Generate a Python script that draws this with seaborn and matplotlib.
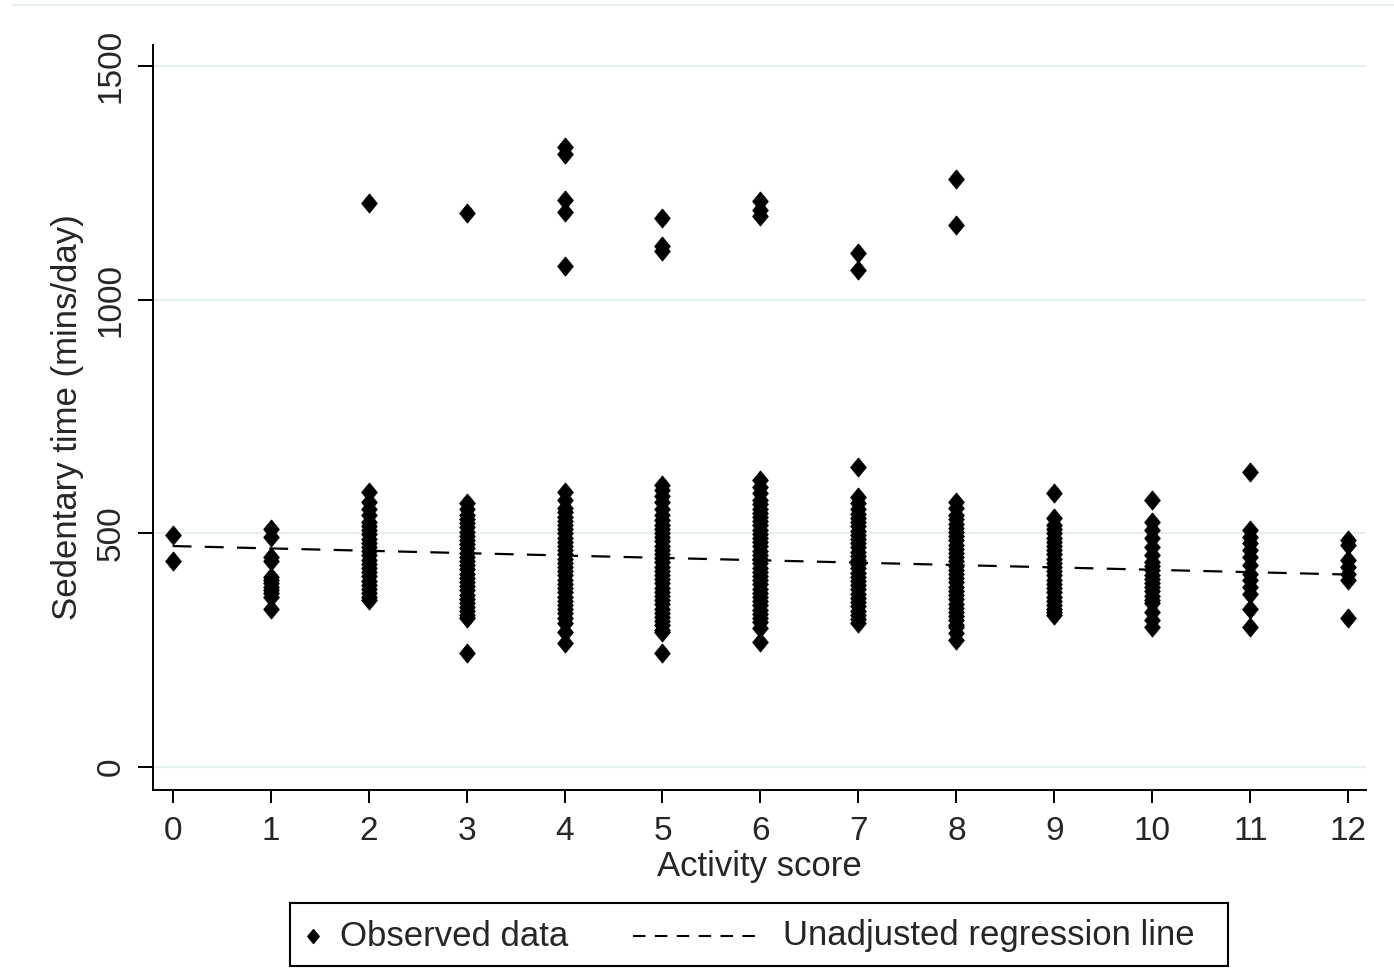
import numpy as np
import pandas as pd
import seaborn as sns
import matplotlib
matplotlib.use("Agg")
import matplotlib.pyplot as plt
from matplotlib.lines import Line2D
from matplotlib.patches import Rectangle

# ---- data ----
activity_scores = [0, 1, 2, 3, 4, 5, 6, 7, 8, 9, 10, 11, 12]

sed_0 = [497, 440]
sed_1 = [509, 493, 450, 441, 407, 400, 393, 386, 379, 372, 364, 339]
sed_2 = [1207, 589, 568, 553, 539, 525, 516, 507, 498, 489, 480, 471, 462, 453, 444,
         435, 426, 417, 408, 399, 390, 381, 372, 364, 357]
sed_3 = [1185, 566, 552, 540, 531, 522, 513, 504, 495, 486, 477, 468, 459, 450, 441,
         432, 423, 414, 405, 396, 387, 378, 369, 360, 351, 342, 333, 325, 318, 244]
sed_4 = [1327, 1312, 1213, 1188, 1072, 589, 571, 554, 545, 536, 527, 518, 509, 500,
         491, 482, 473, 464, 455, 446, 437, 428, 419, 410, 401, 392, 383, 374, 365,
         356, 347, 338, 329, 320, 308, 289, 265]
sed_5 = [1175, 1115, 1104, 603, 593, 580, 567, 553, 540, 528, 519, 510, 501, 492,
         483, 474, 465, 456, 447, 438, 429, 420, 411, 402, 393, 384, 375, 366, 357,
         348, 339, 330, 321, 312, 303, 294, 289, 244]
sed_6 = [1211, 1192, 1179, 614, 600, 586, 571, 562, 553, 544, 535, 526, 517, 508,
         499, 490, 481, 472, 463, 454, 445, 436, 427, 418, 409, 400, 391, 382, 373,
         364, 355, 346, 337, 328, 319, 310, 297, 268]
sed_7 = [1100, 1064, 642, 578, 565, 553, 542, 533, 524, 515, 506, 497, 488, 479,
         470, 461, 452, 443, 434, 425, 416, 407, 398, 389, 380, 371, 362, 353, 344,
         335, 326, 317, 308]
sed_8 = [1258, 1160, 568, 554, 539, 530, 521, 512, 503, 494, 485, 476, 467, 458,
         449, 440, 431, 422, 413, 404, 395, 386, 377, 368, 359, 350, 341, 332, 323,
         314, 305, 300, 286, 272]
sed_9 = [586, 533, 518, 509, 500, 491, 482, 473, 464, 455, 446, 437, 428, 419, 410,
         401, 392, 383, 374, 365, 356, 347, 338, 331, 325]
sed_10 = [571, 525, 507, 490, 471, 454, 439, 430, 421, 412, 403, 394, 385, 376, 367,
          358, 351, 332, 314, 300]
sed_11 = [632, 507, 493, 479, 464, 450, 432, 414, 400, 386, 371, 339, 300]
sed_12 = [486, 475, 443, 428, 414, 400, 318]

reg_x = [0, 12]
reg_y = [473, 412]

y_ticks = [0, 500, 1000, 1500]
x_label = "Activity score"
y_label = "Sedentary time (mins/day)"
legend_labels = ["Observed data", "Unadjusted regression line"]

# ---- build frame ----
columns = [sed_0, sed_1, sed_2, sed_3, sed_4, sed_5, sed_6, sed_7, sed_8, sed_9,
           sed_10, sed_11, sed_12]
rows = []
for score, vals in zip(activity_scores, columns):
    for v in vals:
        rows.append((score, v))
df = pd.DataFrame(rows, columns=["activity", "sedentary"])
reg_df = pd.DataFrame({"activity": reg_x, "sedentary": reg_y})

# ---- plot ----
sns.set_theme(style="white")
plt.rcParams["font.family"] = ["Liberation Sans", "DejaVu Sans"]

W, H = 1394, 968
fig = plt.figure(figsize=(W / 100, H / 100), dpi=100)
ax = fig.add_axes([153 / W, 1 - 790 / H, (1366 - 153) / W, (790 - 45) / H])

grid_col = "#e6eff1"
for yt in y_ticks:
    ax.axhline(yt, color=grid_col, lw=1.6, zorder=0)

tall_diamond = [(0, 1), (0.82, 0), (0, -1), (-0.82, 0), (0, 1)]

sns.scatterplot(data=df, x="activity", y="sedentary", ax=ax, marker=tall_diamond,
                s=190, color="black", edgecolor="black", linewidth=0.6, zorder=3,
                legend=False)
sns.lineplot(data=reg_df, x="activity", y="sedentary", ax=ax, color="black",
             lw=1.6, zorder=4, legend=False)
ax.lines[-1].set_dashes([8.5, 6])

ax.set_xlim(-0.2, 12.18)
ax.set_ylim(-49, 1545)
ax.set_xticks(activity_scores)
ax.set_xticklabels([str(a) for a in activity_scores])
ax.set_yticks(y_ticks)
ax.set_yticklabels([str(t) for t in y_ticks], rotation=90, va="center")

for side in ["top", "right"]:
    ax.spines[side].set_visible(False)
for side in ["left", "bottom"]:
    ax.spines[side].set_color("black")
    ax.spines[side].set_linewidth(1.4)

ax.tick_params(axis="x", direction="out", length=9, width=1.4, color="black",
               labelsize=24, pad=10, bottom=True)
ax.tick_params(axis="y", direction="out", length=11, width=1.4, color="black",
               labelsize=24, pad=8, left=True)

ax.set_xlabel(x_label, fontsize=25, labelpad=2)
ax.set_ylabel(y_label, fontsize=25, labelpad=8)

# light line at top of graph region
fig.add_artist(Line2D([13 / W, 1.0], [1 - 5 / H, 1 - 5 / H],
                      transform=fig.transFigure, color=grid_col, lw=1.6))

# ---- legend box drawn by hand ----
fig.add_artist(Rectangle((290 / W, 1 - 966 / H), (1228 - 290) / W, (966 - 903) / H,
                         transform=fig.transFigure, fill=False, edgecolor="black",
                         lw=1.5))
ly = 1 - 936 / H
fig.add_artist(Line2D([313 / W], [ly], transform=fig.transFigure, marker=tall_diamond,
                      markersize=10, color="black", linestyle="none"))
fig.text(340 / W, ly, legend_labels[0], fontsize=25, va="center", ha="left")
fig.add_artist(Line2D([633 / W, 763 / W], [ly, ly], transform=fig.transFigure,
                      color="black", lw=1.5, dashes=[6, 4.5]))
fig.text(783 / W, ly, legend_labels[1], fontsize=25, va="center", ha="left")

fig.savefig("out.png", dpi=100, facecolor="white")
